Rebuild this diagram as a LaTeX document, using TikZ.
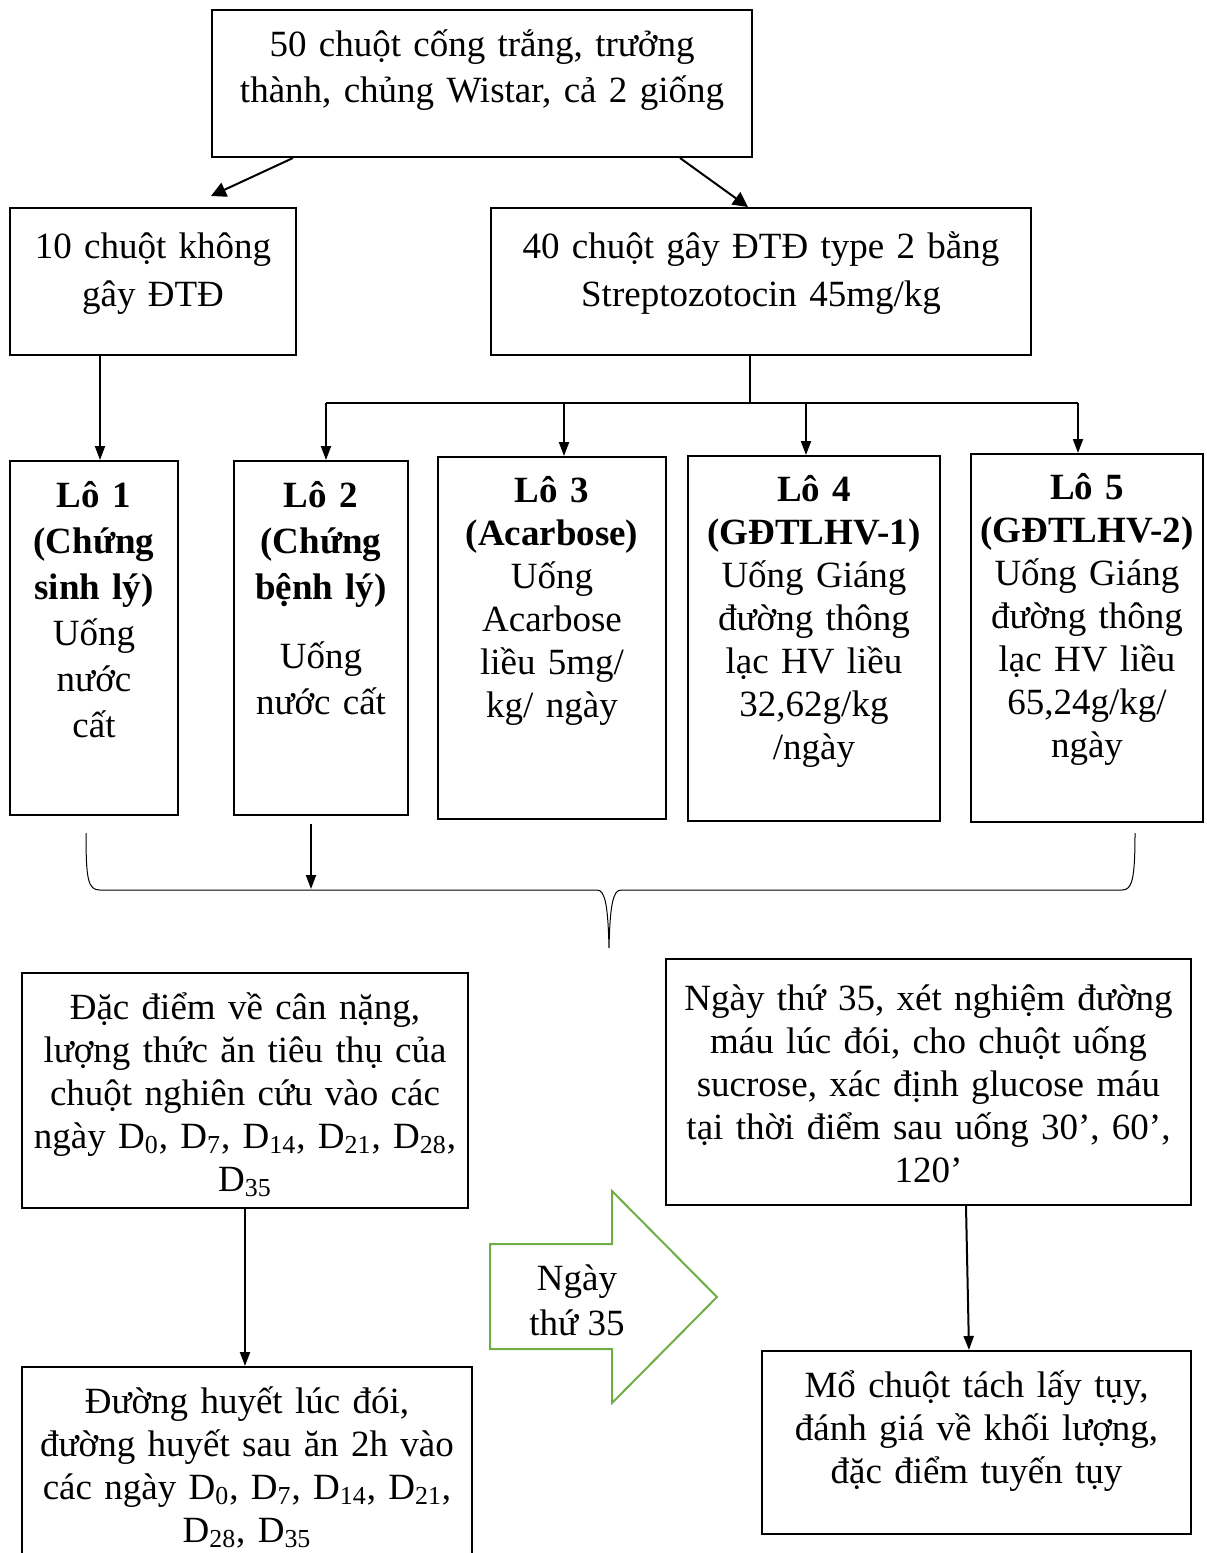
\documentclass[tikz,border=0pt]{standalone}
\usepackage{fontspec}
\setmainfont{Liberation Serif}
\usetikzlibrary{arrows.meta,positioning,calc}
\definecolor{leafgreen}{RGB}{112,173,71}

\begin{document}
\begin{tikzpicture}[
  x=0.5pt, y=-0.5pt,
  font=\fontsize{18.5}{21.5}\selectfont,
  panel/.style={draw=black, line width=1pt, anchor=north, align=center,
    inner xsep=3pt, inner ysep=0pt, text height=23pt},
  loose/.style={font=\fontsize{18.5}{23}\selectfont},
  flow/.style={-{Triangle[length=7pt,width=5pt]}, line width=1pt, draw=black},
  split/.style={-{Triangle[length=7.5pt,width=7.5pt]}, line width=1pt, draw=black}
]
  \useasboundingbox (0,0) rectangle (1206,1553);
  \fill[white] (0,0) rectangle (1206,1553);

  % top of the tree
  \node[panel, loose, text width=264pt, text depth=50.5pt] (herd) at (482,9)
    {50 chuột cống trắng, trưởng\\thành, chủng Wistar, cả 2 giống};
  \node[panel, font=\fontsize{18.5}{24}\selectfont, text width=137pt,
    text height=25pt, text depth=48.5pt] (healthy) at (153,207)
    {10 chuột không\\gây ĐTĐ};
  \node[panel, font=\fontsize{18.5}{24}\selectfont, text width=264pt,
    text height=25pt, text depth=48.5pt] (diabetic) at (761,207)
    {40 chuột gây ĐTĐ type 2 bằng\\Streptozotocin 45mg/kg};
  \draw[split] ([xshift=-94.5pt]herd.south) -- ([xshift=29pt,yshift=5.5pt]healthy.north);
  \draw[split] ([xshift=99pt]herd.south) -- ([xshift=-6.5pt]diabetic.north);

  % the five groups
  \node[panel, loose, text width=78pt, text depth=154pt] (lo1) at (94,460)
    {\bfseries Lô 1\\(Chứng\\sinh lý)\\\mdseries Uống\\nước\\cất};
  \node[panel, loose, text width=81pt, text depth=154pt] (lo2) at (321,460)
    {\bfseries Lô 2\\(Chứng\\bệnh lý)\\[11.5pt]\mdseries Uống\\nước cất};
  \node[panel, text width=108pt, text height=22.5pt, text depth=158.5pt] (lo3) at (552,456)
    {\bfseries Lô 3\\(Acarbose)\\\mdseries Uống\\Acarbose\\liều 5mg/\\kg/ ngày};
  \node[panel, text width=120pt, text height=22.5pt, text depth=160pt] (lo4) at (814,455)
    {\bfseries Lô 4\\(GĐTLHV-1)\\\mdseries Uống Giáng\\đường thông\\lạc HV liều\\32,62g/kg\\/ngày};
  \node[panel, text width=110pt, text height=22.5pt, text depth=161.5pt] (lo5) at (1087,453)
    {\bfseries Lô 5\\(GĐTLHV-2)\\\mdseries Uống Giáng\\đường thông\\lạc HV liều\\65,24g/kg/\\ngày};

  \draw[flow] ($(healthy.south -| lo1.north)+(6,0)$) -- ($(lo1.north)+(6,0)$);
  \draw[line width=0.6pt] ($(diabetic.south)+(-11,0)$) -- ++(0,47) coordinate (bus);
  \draw[line width=0.6pt] ($(bus -| lo2.north)+(5,0)$) -- ($(bus -| lo5.north)+(-9,0)$);
  \foreach \lot/\dx in {lo2/5, lo3/12, lo4/-8, lo5/-9}
    \draw[flow] ($(bus -| \lot.north)+(\dx,0)$) -- ($(\lot.north)+(\dx,0)$);

  % brace under the groups
  \draw[line width=0.5pt] (86,833) .. controls (86,880) and (88,890) .. (100,890)
    -- (597,890) .. controls (605,890) and (608,905) .. (609,948)
    .. controls (610,905) and (613,890) .. (621,890)
    -- (1122,890) .. controls (1132,890) and (1135,880) .. (1135,833);
  \coordinate (brace) at (311,889);
  \draw[flow] ([xshift=-5pt,yshift=-4pt]lo2.south) -- (brace);

  % measurements
  \node[panel, text width=217pt, text depth=94.5pt] (weight) at (245,972)
    {Đặc điểm về cân nặng,\\lượng thức ăn tiêu thụ của\\chuột nghiên cứu vào các\\ngày D\textsubscript{0}, D\textsubscript{7}, D\textsubscript{14}, D\textsubscript{21}, D\textsubscript{28},\\D\textsubscript{35}};
  \node[panel, text width=256.5pt, text height=25.5pt, text depth=97.5pt] (sucrose) at (928.5,958)
    {Ngày thứ 35, xét nghiệm đường\\máu lúc đói, cho chuột uống\\sucrose, xác định glucose máu\\tại thời điểm sau uống 30’, 60’,\\120’};
  \node[panel, text width=219pt, text depth=87pt] (glucose) at (247,1366)
    {Đường huyết lúc đói,\\đường huyết sau ăn 2h vào\\các ngày D\textsubscript{0}, D\textsubscript{7}, D\textsubscript{14}, D\textsubscript{21},\\D\textsubscript{28}, D\textsubscript{35}};
  \node[panel, text width=208.5pt, text depth=68.5pt] (pancreas) at (976.5,1350)
    {Mổ chuột tách lấy tụy,\\đánh giá về khối lượng,\\đặc điểm tuyến tụy};
  \draw[flow] (weight.south) -- (weight.south |- glucose.north);
  \draw[flow] ([xshift=18.75pt]sucrose.south) -- ([xshift=-3.75pt]pancreas.north);

  % block arrow
  \draw[leafgreen, line width=1pt] (490,1244) -- (612,1244) -- (612,1191) -- (717,1297)
    -- (612,1403) -- (612,1349) -- (490,1349) -- cycle;
  \node[align=center, font=\fontsize{18.5}{22.5}\selectfont] (day35) at (577,1300) {Ngày\\thứ 35};
\end{tikzpicture}
\end{document}
